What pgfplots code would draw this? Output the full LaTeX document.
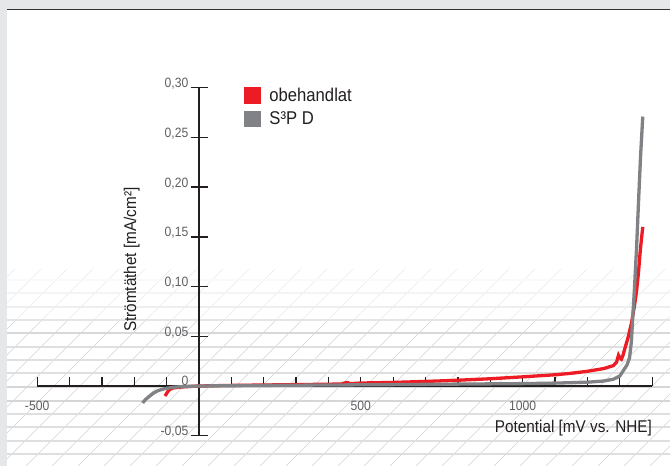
\documentclass[border=0pt]{standalone}
\usepackage{fontspec}
\setmainfont{Liberation Sans}[FakeStretch=0.9]
\usepackage{pgfplots}
\pgfplotsset{compat=1.18}

\definecolor{redline}{RGB}{237,28,36}
\definecolor{grayline}{RGB}{128,130,133}
\definecolor{ticktext}{RGB}{95,96,99}
\definecolor{axisblack}{RGB}{35,31,32}
\definecolor{bandgray}{RGB}{230,231,232}
\definecolor{hatch}{RGB}{212,212,212}

\pgfplotstableread{
x y
-105 -0.0100
-100 -0.0075
-95 -0.0050
-88 -0.0030
-80 -0.0020
-60 -0.0012
-40 -0.0007
0 0.0000
100 0.0006
200 0.0010
300 0.0014
400 0.0018
440 0.0020
450 0.0030
458 0.0035
465 0.0026
480 0.0026
500 0.0030
600 0.0036
700 0.0046
800 0.0058
900 0.0073
1000 0.0092
1100 0.0113
1150 0.0128
1200 0.0148
1250 0.0175
1280 0.0205
1290 0.0240
1296 0.0310
1300 0.0285
1305 0.0270
1310 0.0310
1315 0.0370
1325 0.0480
1336 0.0630
1345 0.0800
1352 0.0960
1358 0.1150
1363 0.1350
1367 0.1480
1371 0.1600
}\untreated

\pgfplotstableread{
x y
-174 -0.0170
-165 -0.0135
-152 -0.0100
-140 -0.0070
-127 -0.0047
-110 -0.0030
-99 -0.0023
-80 -0.0013
-59 -0.0007
0 0.0000
200 0.0006
400 0.0010
600 0.0014
800 0.0019
1000 0.0024
1100 0.0029
1200 0.0038
1250 0.0050
1280 0.0068
1300 0.0100
1311 0.0155
1322 0.0210
1330 0.0280
1336 0.0450
1341 0.0750
1345 0.0960
1352 0.1400
1358 0.1860
1364 0.2300
1371 0.2710
}\sppd

\begin{document}
\begin{tikzpicture}
\useasboundingbox (0pt,0pt) rectangle (670pt,466pt);
\fill[white] (0pt,0pt) rectangle (670pt,466pt);

% floor pattern
\begin{scope}[x=1pt,y=1pt]
  \begin{scope}
    \clip (7,0) rectangle (670,146);
    \foreach \i in {-12,...,28} \draw[hatch,line width=0.6pt] (\i*26,0) -- ++(200,200);
  \end{scope}
  \begin{scope}
    \clip (7,146) rectangle (670,196);
    \foreach \i in {-12,...,28} \draw[hatch!50,line width=0.6pt] (\i*26,0) -- ++(200,200);
  \end{scope}
  \foreach \yy/\op in {186/15,173/25,159/40,146/60,133/90,119/75,106/75,93/75,79/95,65/95,52/75,39/75,25/75,12/75}
    \draw[hatch!\op, line width=1.4pt] (7,\yy) -- (670,\yy);
  % frame
  \fill[bandgray] (0,456) rectangle (670,466);
  \fill[bandgray] (0,0) rectangle (7,456);
  \draw[black!80, line width=1pt] (7,456) -- (670,456);
\end{scope}

\begin{axis}[
  at={(199pt,80pt)}, anchor=origin,
  scale only axis, width=615pt, height=348pt,
  xmin=-500, xmax=1400, ymin=-0.05, ymax=0.30,
  axis lines=middle,
  axis line style={-, axisblack, line width=2.2pt},
  clip=false,
  hide obscured y ticks=false,
  xtick={-500,500,1000},
  xticklabels={-500,500,1000},
  minor xtick={-500,-400,...,1400},
  ytick={-0.05,0,0.05,0.10,0.15,0.20,0.25,0.30},
  yticklabels={{-0,05},0,{0,05},{0,10},{0,15},{0,20},{0,25},{0,30}},
  minor ytick={},
  tick align=center,
  major tick length=17pt,
  minor tick length=9pt,
  tick style={axisblack, line width=1.3pt},
  major x tick style={draw=none},
  minor x tick style={yshift=4.5pt},
  tick label style={font=\fontsize{13.5}{15}\selectfont, text=ticktext, inner sep=0pt},
  xticklabel style={anchor=north, yshift=-6pt},
  yticklabel style={anchor=base east, xshift=-2pt},
  xlabel={Potential [mV vs. NHE]},
  ylabel={Strömtäthet [mA/cm²]},
  label style={font=\fontsize{17}{20}\selectfont, text=axisblack, inner sep=0pt},
  xlabel style={at={(axis cs:1400,-0.047)}, anchor=base east},
  ylabel style={at={(axis cs:-208,0.127)}, anchor=center, rotate=90},
  legend style={at={(axis cs:139.5,0.301)}, anchor=north west, draw=none, fill=none,
    inner sep=0pt, outer sep=0pt,
    font=\fontsize{18.5}{21}\selectfont, text=axisblack, row sep=7pt,
    nodes={inner sep=0pt}},
  legend cell align=left,
  legend image code/.code={\fill[#1] (0pt,-6.5pt) rectangle (13.5pt,7pt); \path (22pt,0pt);},
]
\addplot[redline, line width=3.3pt] table[x=x,y=y]{\untreated};
\addlegendentry{obehandlat}
\addplot[grayline, line width=3.3pt] table[x=x,y=y]{\sppd};
\addlegendentry{S³P D}
\end{axis}
\end{tikzpicture}
\end{document}
